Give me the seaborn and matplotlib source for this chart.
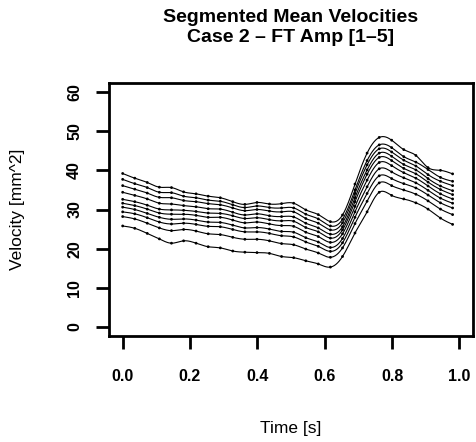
import numpy as np
import pandas as pd
import matplotlib
matplotlib.use("Agg")
import matplotlib.pyplot as plt
import seaborn as sns

# ---- data ----
time_s = [0.000, 0.036, 0.073, 0.109, 0.145, 0.181, 0.218, 0.254, 0.290, 0.327,
          0.363, 0.399, 0.436, 0.472, 0.508, 0.544, 0.581, 0.617, 0.653, 0.690,
          0.726, 0.762, 0.799, 0.835, 0.871, 0.907, 0.944, 0.980]

amp_1 = [39.2, 38.0, 36.9, 35.7, 35.6, 34.5, 34.0, 33.4, 33.0, 32.0, 31.3, 31.8, 31.4, 31.5,
         31.6, 29.9, 28.7, 26.9, 28.6, 36.5, 44.4, 48.4, 47.7, 45.3, 43.8, 40.7, 40.0, 39.1]
amp_2 = [37.7, 36.6, 35.6, 34.4, 34.3, 33.4, 33.0, 32.4, 32.1, 31.2, 30.5, 30.9, 30.5, 30.4,
         30.4, 28.8, 27.6, 25.8, 27.5, 35.0, 42.5, 46.5, 45.8, 43.5, 42.1, 40.2, 38.2, 37.2]
amp_3 = [36.1, 35.2, 34.2, 33.1, 33.0, 32.3, 32.0, 31.5, 31.2, 30.4, 29.7, 30.0, 29.6, 29.4,
         29.4, 27.7, 26.5, 24.8, 26.6, 34.1, 41.4, 45.5, 44.7, 42.6, 41.1, 38.9, 37.2, 36.1]
amp_4 = [34.4, 33.6, 32.7, 31.6, 31.4, 31.0, 30.7, 30.2, 30.1, 29.3, 28.6, 28.9, 28.4, 28.2,
         28.1, 26.5, 25.3, 23.7, 25.6, 33.0, 40.1, 44.4, 43.6, 41.5, 40.1, 37.9, 36.0, 34.8]
amp_5 = [32.6, 32.0, 31.1, 30.1, 29.9, 29.8, 29.5, 29.1, 29.0, 28.4, 27.7, 27.9, 27.4, 27.1,
         27.0, 25.4, 24.3, 22.7, 24.8, 32.0, 39.0, 43.3, 42.5, 40.5, 39.1, 37.0, 35.1, 33.8]
amp_6 = [31.6, 31.0, 30.1, 29.1, 28.8, 28.8, 28.5, 28.0, 28.0, 27.3, 26.6, 26.8, 26.3, 25.9,
         25.7, 24.2, 23.1, 21.6, 23.8, 30.8, 37.5, 42.0, 41.2, 39.4, 38.0, 36.0, 34.0, 32.7]
amp_7 = [30.6, 30.0, 29.0, 28.0, 27.5, 27.6, 27.3, 26.8, 26.7, 26.0, 25.3, 25.4, 25.0, 24.4,
         24.2, 22.8, 21.7, 20.3, 22.6, 29.4, 35.8, 40.4, 39.6, 38.1, 36.8, 34.9, 32.9, 31.6]
amp_8 = [29.4, 28.9, 27.9, 26.8, 26.3, 26.5, 26.2, 25.7, 25.6, 24.9, 24.3, 24.3, 23.9, 23.3,
         23.0, 21.7, 20.6, 19.3, 21.5, 28.0, 34.1, 38.6, 37.9, 36.6, 35.5, 33.7, 31.7, 30.4]
amp_9 = [28.2, 27.6, 26.5, 25.3, 24.6, 24.9, 24.5, 23.8, 23.6, 22.9, 22.4, 22.4, 22.0, 21.3,
         21.0, 19.9, 18.9, 17.8, 20.2, 26.4, 32.1, 36.8, 36.1, 35.0, 33.9, 32.2, 30.1, 28.7]
amp_10 = [25.8, 25.2, 23.9, 22.5, 21.4, 22.0, 21.4, 20.5, 20.2, 19.4, 19.1, 19.0, 18.8, 18.0,
          17.7, 16.9, 16.1, 15.3, 18.0, 24.0, 29.4, 34.4, 33.6, 32.7, 31.7, 30.1, 27.8, 26.2]

series = [amp_1, amp_2, amp_3, amp_4, amp_5, amp_6, amp_7, amp_8, amp_9, amp_10]
x_ticks = [0.0, 0.2, 0.4, 0.6, 0.8, 1.0]
x_tick_labels = ["0.0", "0.2", "0.4", "0.6", "0.8", "1.0"]
y_ticks = [0, 10, 20, 30, 40, 50, 60]
y_tick_labels = ["0", "10", "20", "30", "40", "50", "60"]


def natural_spline(x, y, xs):
    x = np.asarray(x, float)
    y = np.asarray(y, float)
    n = len(x)
    h = np.diff(x)
    A = np.zeros((n, n))
    b = np.zeros(n)
    A[0, 0] = 1.0
    A[-1, -1] = 1.0
    for i in range(1, n - 1):
        A[i, i - 1] = h[i - 1]
        A[i, i] = 2 * (h[i - 1] + h[i])
        A[i, i + 1] = h[i]
        b[i] = 6 * ((y[i + 1] - y[i]) / h[i] - (y[i] - y[i - 1]) / h[i - 1])
    M = np.linalg.solve(A, b)
    idx = np.clip(np.searchsorted(x, xs) - 1, 0, n - 2)
    x0, x1 = x[idx], x[idx + 1]
    hh = x1 - x0
    return (M[idx] * (x1 - xs) ** 3 / (6 * hh) + M[idx + 1] * (xs - x0) ** 3 / (6 * hh)
            + (y[idx] / hh - M[idx] * hh / 6) * (x1 - xs)
            + (y[idx + 1] / hh - M[idx + 1] * hh / 6) * (xs - x0))


# long tables
pts = pd.DataFrame({
    "time": np.tile(time_s, len(series)),
    "velocity": np.concatenate(series),
    "amp": np.repeat(np.arange(1, len(series) + 1), len(time_s)),
})
xs = np.linspace(time_s[0], time_s[-1], 400)
curves = pd.DataFrame({
    "time": np.tile(xs, len(series)),
    "velocity": np.concatenate([natural_spline(time_s, s, xs) for s in series]),
    "amp": np.repeat(np.arange(1, len(series) + 1), len(xs)),
})

sns.set_style("ticks")
plt.rcParams["font.family"] = ["Liberation Sans", "DejaVu Sans"]
plt.rcParams["text.color"] = "black"
plt.rcParams["axes.labelcolor"] = "black"
plt.rcParams["xtick.color"] = "black"
plt.rcParams["ytick.color"] = "black"

fig = plt.figure(figsize=(4.76, 4.42), dpi=100)
ax = fig.add_axes([0.2294, 0.2389, 0.7639, 0.5742])

sns.lineplot(data=curves, x="time", y="velocity", units="amp", estimator=None,
             color="black", linewidth=0.8, ax=ax, legend=False)
sns.scatterplot(data=pts, x="time", y="velocity", color="black", s=4,
                edgecolor="none", ax=ax, legend=False, zorder=3)

ax.set_xlim(-0.04, 1.04)
ax.set_ylim(-2.4, 62.4)
ax.set_xticks(x_ticks)
ax.set_xticklabels(x_tick_labels, fontweight="bold", fontsize=11.5, color="black")
ax.set_yticks(y_ticks)
ax.set_yticklabels(y_tick_labels, fontweight="bold", fontsize=11.5, color="black",
                   rotation=90, va="center")
ax.set_xlabel("")
ax.set_ylabel("")
for sp in ax.spines.values():
    sp.set_visible(True)
    sp.set_linewidth(2.0)
    sp.set_color("black")
ax.tick_params(axis="both", direction="out", length=9.4, width=2.0, color="black")
ax.tick_params(axis="x", pad=14)
ax.tick_params(axis="y", pad=10)

cx = 0.611
fig.text(cx, 1 - 17 / 442, "Segmented Mean Velocities", ha="center", va="center",
         fontsize=14, fontweight="bold", color="black")
fig.text(cx, 1 - 37 / 442, "Case 2 \u2013 FT Amp [1\u20135]", ha="center", va="center",
         fontsize=14, fontweight="bold", color="black")
fig.text(cx, 1 - 428 / 442, "Time [s]", ha="center", va="center", fontsize=12.5,
         color="black")
fig.text(18 / 476, 1 - 209.5 / 442, "Velocity [mm^2]", ha="center", va="center",
         rotation=90, fontsize=12.5, color="black")

fig.savefig("out.png", dpi=100)
